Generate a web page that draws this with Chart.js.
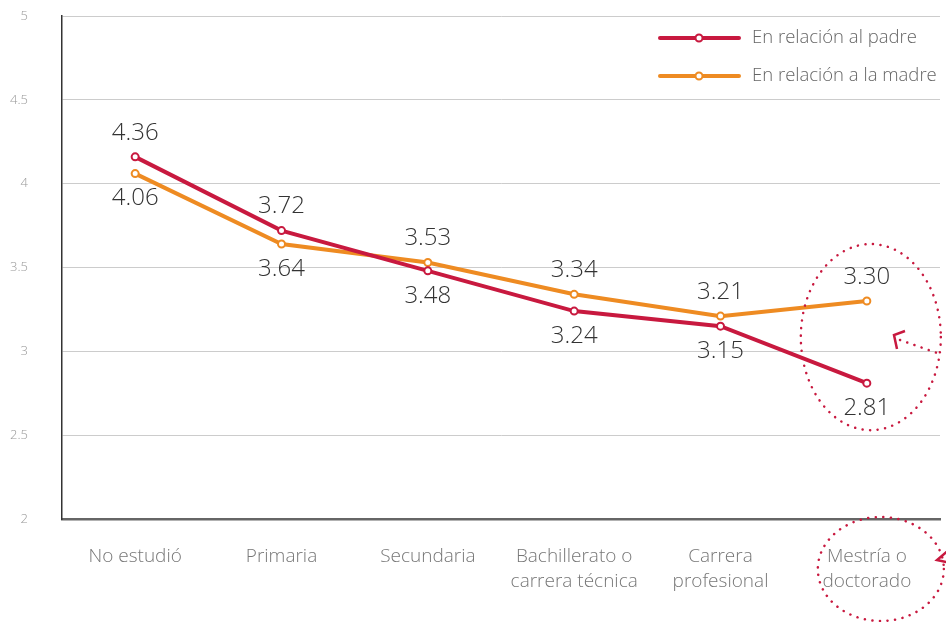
<!DOCTYPE html>
<html>
<head>
<meta charset="UTF-8">
<script src="https://cdn.jsdelivr.net/npm/chart.js@4"></script>
<style>
	html, body { margin: 0; padding: 0; background: #fff; }
	#wrap { width: 946px; height: 622px; }
</style>
</head>
<body>
<div id="wrap"><canvas id="c"></canvas></div>
<script>
// categorias y series
var categories = ['No estudió', 'Primaria', 'Secundaria', ['Bachillerato o', 'carrera técnica'], ['Carrera', 'profesional'], ['Mestría o', 'doctorado']];
var padreValues = [4.16, 3.72, 3.48, 3.24, 3.15, 2.81];
var madreValues = [4.06, 3.64, 3.53, 3.34, 3.21, 3.30];
// etiquetas tal como aparecen en la gráfica
var padreLabels = ['4.36', '3.72', '3.48', '3.24', '3.15', '2.81'];
var madreLabels = ['4.06', '3.64', '3.53', '3.34', '3.21', '3.30'];
var padreSide = ['up', 'up', 'down', 'down', 'down', 'down'];
var madreSide = ['down', 'down', 'up', 'up', 'up', 'up'];

var RED = '#c8193f';
var ORANGE = '#ee8b22';

// etiquetas de valores
var valueLabels = {
	id: 'valueLabels',
	afterDatasetsDraw: function (chart) {
		var ctx = chart.ctx;
		ctx.save();
		ctx.font = '300 24px "Open Sans"';
		ctx.fillStyle = '#333';
		ctx.textAlign = 'center';
		ctx.textBaseline = 'middle';
		chart.data.datasets.forEach(function (ds, i) {
			var meta = chart.getDatasetMeta(i);
			meta.data.forEach(function (pt, j) {
				var dy = ds.sides[j] === 'up' ? -24 : 25;
				ctx.fillText(ds.texts[j], pt.x, pt.y + dy);
			});
		});
		ctx.restore();
	}
};

// leyenda propia
var customLegend = {
	id: 'customLegend',
	afterDraw: function (chart) {
		var ctx = chart.ctx;
		ctx.save();
		chart.data.datasets.forEach(function (ds, i) {
			var y = 38 + i * 38;
			ctx.strokeStyle = ds.borderColor;
			ctx.lineWidth = 4;
			ctx.lineCap = 'round';
			ctx.beginPath();
			ctx.moveTo(660, y);
			ctx.lineTo(739, y);
			ctx.stroke();
			ctx.beginPath();
			ctx.arc(699, y, 3.5, 0, Math.PI * 2);
			ctx.fillStyle = '#fff';
			ctx.fill();
			ctx.lineWidth = 2;
			ctx.stroke();
			ctx.font = '300 18.5px "Open Sans"';
			ctx.fillStyle = '#666';
			ctx.textAlign = 'left';
			ctx.textBaseline = 'middle';
			ctx.fillText(ds.label, 752, y);
		});
		ctx.restore();
	}
};

// circulos punteados y flechas
function dottedEllipse(ctx, cx, cy, rx, ry) {
	ctx.beginPath();
	ctx.ellipse(cx, cy, rx, ry, 0, 0, Math.PI * 2);
	ctx.stroke();
}
var marks = {
	id: 'marks',
	afterDraw: function (chart) {
		var ctx = chart.ctx;
		var xs = chart.scales.x, ys = chart.scales.y;
		var last = categories.length - 1;
		var cx = xs.getPixelForValue(last);
		ctx.save();
		ctx.strokeStyle = RED;
		ctx.lineCap = 'round';
		ctx.lineWidth = 2.5;
		ctx.setLineDash([0.1, 7.5]);
		var top = ys.getPixelForValue(3.64), bot = ys.getPixelForValue(2.53);
		dottedEllipse(ctx, cx + 4, (top + bot) / 2, 70, (bot - top) / 2);
		dottedEllipse(ctx, cx + 14, 569, 63, 52);
		// flecha punteada
		ctx.beginPath();
		ctx.moveTo(900, 340);
		ctx.lineTo(940, 354);
		ctx.stroke();
		ctx.setLineDash([]);
		ctx.lineWidth = 2.5;
		ctx.lineCap = 'butt';
		ctx.beginPath();
		ctx.moveTo(905, 331);
		ctx.lineTo(894, 335);
		ctx.lineTo(897, 349);
		ctx.stroke();
		ctx.beginPath();
		ctx.moveTo(950, 549);
		ctx.lineTo(937, 560);
		ctx.lineTo(950, 563);
		ctx.stroke();
		ctx.restore();
	}
};

new Chart(document.getElementById('c'), {
	type: 'line',
	data: {
		labels: categories,
		datasets: [{
			label: 'En relación al padre',
			data: padreValues,
			texts: padreLabels,
			sides: padreSide,
			borderColor: RED,
			backgroundColor: '#fff',
			borderWidth: 4,
			pointRadius: 3.5,
			pointBorderWidth: 2,
			pointBackgroundColor: '#fff',
			pointBorderColor: RED,
			tension: 0
		}, {
			label: 'En relación a la madre',
			data: madreValues,
			texts: madreLabels,
			sides: madreSide,
			borderColor: ORANGE,
			backgroundColor: '#fff',
			borderWidth: 4,
			pointRadius: 3.5,
			pointBorderWidth: 2,
			pointBackgroundColor: '#fff',
			pointBorderColor: ORANGE,
			tension: 0
		}]
	},
	options: {
		responsive: true,
		maintainAspectRatio: false,
		animation: false,
		layout: { padding: { top: 16, right: 5, left: 0, bottom: 0 } },
		plugins: {
			legend: { display: false },
			tooltip: { enabled: false }
		},
		scales: {
			x: {
				offset: true,
				grid: { display: false, drawTicks: false },
				border: { color: '#666', width: 2.5 },
				ticks: {
					color: '#777',
					font: { family: 'Open Sans', size: 19, weight: '300', lineHeight: 1.32 },
					padding: 25,
					maxRotation: 0,
					autoSkip: false
				},
				afterFit: function (s) { s.height = 103; }
			},
			y: {
				min: 2,
				max: 5,
				ticks: {
					stepSize: 0.5,
					color: '#999',
					font: { family: 'Open Sans', size: 13, weight: '300' },
					padding: 34,
					callback: function (v) { return String(v); }
				},
				grid: { color: '#ccc', lineWidth: 1, drawTicks: false },
				border: { color: '#333', width: 1.5 },
				afterFit: function (s) {
					s.width = 62;
					s.paddingTop = 0;
					s.paddingBottom = 0;
				}
			}
		}
	},
	plugins: [valueLabels, customLegend, marks]
});
</script>
</body>
</html>
